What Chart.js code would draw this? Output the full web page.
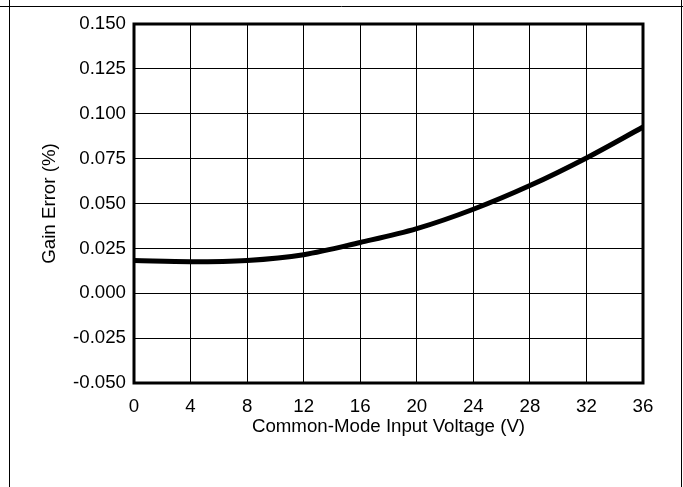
<!DOCTYPE html>
<html>
<head>
<meta charset="utf-8">
<script src="https://cdn.jsdelivr.net/npm/chart.js@4/dist/chart.umd.min.js"></script>
<style>
  html, body { margin: 0; padding: 0; background: #fff; }
  #wrap { width: 683px; height: 487px; position: relative; }
</style>
</head>
<body>
<div id="wrap"><canvas id="grafico" width="683" height="487"></canvas></div>
<script>
  // valores
  const tensoes = [0, 4, 8, 12, 16, 20, 24, 28, 32, 36];
  const erroGanho = [0.0182, 0.0176, 0.0183, 0.0215, 0.0283, 0.0360, 0.0468, 0.0600, 0.0754, 0.0926];
  const ticksY = [-0.050, -0.025, 0.000, 0.025, 0.050, 0.075, 0.100, 0.125, 0.150];
  const ticksX = [0, 4, 8, 12, 16, 20, 24, 28, 32, 36];

  const fonte = { family: "'Liberation Sans', Arial, sans-serif", size: 18.7 };

  // moldura da tabela e borda da área do gráfico
  const moldura = {
    id: 'moldura',
    afterDraw(chart) {
      const ctx = chart.ctx;
      const a = chart.chartArea;
      ctx.save();
      ctx.strokeStyle = '#000';
      ctx.lineWidth = 1;
      ctx.beginPath();
      ctx.moveTo(0, 6.5); ctx.lineTo(683, 6.5);
      ctx.moveTo(9.5, 0); ctx.lineTo(9.5, 487);
      ctx.moveTo(681.5, 0); ctx.lineTo(681.5, 487);
      ctx.stroke();
      ctx.lineWidth = 3;
      ctx.strokeRect(a.left, a.top, a.right - a.left, a.bottom - a.top);
      ctx.restore();
    }
  };

  new Chart(document.getElementById('grafico'), {
    type: 'line',
    data: {
      datasets: [{
        data: tensoes.map((v, i) => ({ x: v, y: erroGanho[i] })),
        borderColor: '#000',
        borderWidth: 5,
        pointRadius: 0,
        cubicInterpolationMode: 'monotone',
        fill: false
      }]
    },
    options: {
      responsive: false,
      animation: false,
      layout: { padding: { left: 0, top: 24, right: 40, bottom: 0 } },
      plugins: { legend: { display: false }, tooltip: { enabled: false } },
      scales: {
        x: {
          type: 'linear',
          min: 0, max: 36,
          afterFit: s => { s.height = 104; },
          afterBuildTicks: s => { s.ticks = ticksX.map(v => ({ value: v })); },
          grid: { color: '#000', lineWidth: 1, drawTicks: false },
          border: { display: false },
          ticks: { color: '#000', font: fonte, padding: 13, maxRotation: 0 },
          title: {
            display: true, text: 'Common-Mode Input Voltage (V)',
            color: '#000', font: fonte, padding: { top: 0, bottom: 49 }
          }
        },
        y: {
          min: -0.05, max: 0.15,
          afterFit: s => { s.width = 134; },
          afterBuildTicks: s => { s.ticks = ticksY.map(v => ({ value: v })); },
          grid: { color: '#000', lineWidth: 1, drawTicks: false },
          border: { display: false },
          ticks: { color: '#000', font: fonte, padding: 8, callback: v => v.toFixed(3) },
          title: {
            display: true, text: 'Gain Error (%)',
            color: '#000', font: fonte, padding: { top: 39, bottom: 0 }
          }
        }
      }
    },
    plugins: [moldura]
  });
</script>
</body>
</html>
